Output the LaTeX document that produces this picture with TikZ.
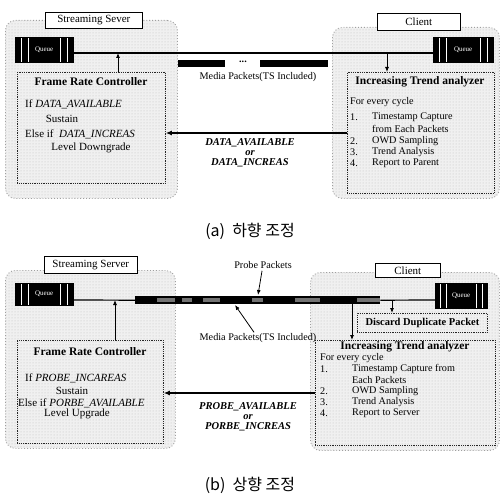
\documentclass[tikz,border=0pt]{standalone}
\usepackage{fontspec}
\setmainfont{Liberation Serif}
\newfontfamily\korfont{Noto Sans CJK KR}
\usetikzlibrary{arrows.meta,patterns,calc}
\begin{document}
\begin{tikzpicture}[x=1pt,y=-1pt,
  outerbox/.style={draw=gray!75, dotted, line width=0.9pt, rounded corners=10pt,
    preaction={fill=gray!12}, pattern=dots, pattern color=gray!50, anchor=north west, inner sep=0pt},
  inbox/.style={draw=black!85, densely dotted, line width=0.8pt,
    preaction={fill=gray!12}, pattern=dots, pattern color=gray!50, anchor=north west, inner sep=0pt},
  lbl/.style={draw=black, line width=0.6pt, fill=white, anchor=north west, inner sep=0pt,
    font=\fontsize{11}{13}\selectfont},
  queue/.style={fill=black, draw=black, anchor=north west, inner sep=0pt, text=white,
    font=\fontsize{7}{8}\selectfont,
    path picture={\foreach \f in {0.1,0.22,0.78,0.9}{
      \draw[white,line width=0.5pt]
      ($(path picture bounding box.north west)!\f!(path picture bounding box.north east)$) --
      ($(path picture bounding box.south west)!\f!(path picture bounding box.south east)$);}}},
  txt/.style={inner sep=0pt, font=\fontsize{10.2}{12}\selectfont},
  ftxt/.style={inner sep=0pt, font=\fontsize{11}{13}\selectfont},
  ttl/.style={inner sep=0pt, font=\fontsize{11.5}{13}\selectfont\bfseries},
  msg/.style={inner sep=0pt, font=\fontsize{10.5}{12}\selectfont\bfseries\itshape},
  pkt/.style={fill=black, anchor=north west, inner sep=0pt},
  arr/.style={-{Latex[length=5pt,width=4pt]}, line width=0.8pt},
  bigarr/.style={-{Latex[length=6pt,width=5pt]}, line width=1.8pt},
  captext/.style={inner sep=0pt, font=\korfont\fontsize{16}{18}\selectfont}
]
\useasboundingbox (0,0) rectangle (503,495);

% ================= (a) =================
\node[outerbox, minimum width=172, minimum height=178] (sAo) at (5,20) {};
\node[outerbox, minimum width=167, minimum height=171] (cAo) at (332,27) {};
\node[lbl, minimum width=97, minimum height=16] (sAl) at (45,12) {Streaming Sever};
\node[lbl, minimum width=83, minimum height=17] (cAl) at (377,13) {Client};
\node[queue, minimum width=58, minimum height=25] (qsA) at (15,37) {Queue};
\node[queue, minimum width=60, minimum height=25] (qcA) at (433,37) {Queue};
\node[inbox, minimum width=148, minimum height=111] (frcA) at (17,72) {};
\node[inbox, minimum width=147, minimum height=121] (anA) at (347,72) {};

\coordinate (yA) at (0,53);
\draw[line width=1.6pt] (qsA.east |- yA) -- (qcA.west |- yA);
\coordinate (upA) at (118,53);
\draw[arr] (frcA.north -| upA) -- (upA);
\coordinate (dnA) at (387,53);
\draw[arr] (dnA) -- (anA.north -| dnA);

\node[pkt, minimum width=47, minimum height=7] (pk1) at (178,60) {};
\node[pkt, minimum width=68, minimum height=7] (pk2) at (260,60) {};
\node[txt] (dotsA) at (243,62) {\textbf{...}};
\node[txt] (mpA) at (258,77) {Media Packets(TS Included)};

% FRC text (a)
\node[ttl] (fA0) at (91,82) {Frame Rate Controller};
\node[ftxt, anchor=west] (fA1) at (25,104) {If \textit{DATA\_AVAILABLE}};
\node[ftxt] (fA2) at (62,119) {Sustain};
\node[ftxt, anchor=west] (fA3) at (25,134) {Else if\ \ \textit{DATA\_INCREAS}};
\node[ftxt] (fA4) at (91,148) {Level Downgrade};

% Analyzer text (a)
\node[ttl] (aA0) at (420,82) {Increasing Trend analyzer};
\node[txt, anchor=west] (aA1) at (350,102) {For every cycle};
\node[txt, anchor=west] (aA2n) at (350,117) {1.};
\node[txt, anchor=west] (aA2) at (372,117) {Timestamp Capture};
\node[txt, anchor=west] (aA3) at (372,129) {from Each Packets};
\node[txt, anchor=west] (aA4n) at (350,141) {2.};
\node[txt, anchor=west] (aA4) at (372,141) {OWD Sampling};
\node[txt, anchor=west] (aA5n) at (350,152) {3.};
\node[txt, anchor=west] (aA5) at (372,152) {Trend Analysis};
\node[txt, anchor=west] (aA6n) at (350,163) {4.};
\node[txt, anchor=west] (aA6) at (372,163) {Report to Parent};

\coordinate (mA) at (0,133);
\draw[bigarr] (anA.west |- mA) -- (frcA.east |- mA);
\node[msg] (m1A) at (250,143) {DATA\_AVAILABLE};
\node[msg] (m2A) at (250,153) {or};
\node[msg] (m3A) at (250,163) {DATA\_INCREAS};

\node[captext] (capA) at (250,231) {(a)\ \ 하향 조정};

% ================= (b) =================
\node[outerbox, minimum width=170, minimum height=178] (sBo) at (5,270) {};
\node[outerbox, minimum width=189, minimum height=178] (cBo) at (310,272) {};
\node[lbl, minimum width=93, minimum height=17] (sBl) at (44,256) {Streaming Server};
\node[lbl, minimum width=65, minimum height=14] (cBl) at (375,263) {Client};
\node[queue, minimum width=58, minimum height=22] (qsB) at (15,283) {Queue};
\node[queue, minimum width=52, minimum height=25] (qcB) at (435,283) {Queue};
\node[inbox, minimum width=146, minimum height=103] (frcB) at (17,340) {};
\node[inbox, minimum width=130, minimum height=19] (disc) at (357,313) {};
\node[inbox, minimum width=180, minimum height=105] (anB) at (315,340) {};

\node[pkt, minimum width=245, minimum height=8] (band) at (135,296) {};
\foreach \a/\b in {157/175,182/192,203/220,252/263,295/320,357/380}
  \fill[black!55] (\a,298) rectangle (\b,302);
\coordinate (yB) at (0,300);
\draw[line width=1.2pt] (qsB.east |- yB) -- (band.west);
\draw[line width=1.2pt] (band.east) -- (qcB.west |- yB);

\coordinate (upB) at (115,300);
\draw[arr] (frcB.north -| upB) -- (upB);
\coordinate (d1B) at (392,300);
\draw[arr] (d1B) -- (disc.north -| d1B);
\coordinate (d2B) at (352,300);
\draw[arr] (d2B) -- (anB.north -| d2B);

\node[txt] (probe) at (263,265) {Probe Packets};
\coordinate (pbt) at (258,295);
\draw[arr, shorten <=2pt] (probe) -- (pbt);
\node[txt] (mpB) at (258,338) {Media Packets(TS Included)};
\coordinate (mbt) at (235,305);
\draw[arr, shorten <=1pt] (mpB) -- (mbt);

\node[ttl, font=\fontsize{10.5}{12}\selectfont\bfseries] (dtx) at (disc.center) {Discard Duplicate Packet};

% FRC text (b)
\node[ttl] (fB0) at (90,352) {Frame Rate Controller};
\node[ftxt, anchor=west] (fB1) at (25,378) {If \textit{PROBE\_INCAREAS}};
\node[ftxt] (fB2) at (72,391) {Sustain};
\node[ftxt, anchor=west] (fB3) at (18,403) {Else if \textit{PORBE\_AVAILABLE}};
\node[ftxt] (fB4) at (77,414) {Level Upgrade};

% Analyzer text (b)
\node[ttl] (aB0) at (405,347) {Increasing Trend analyzer};
\node[txt, anchor=west] (aB1) at (320,358) {For every cycle};
\node[txt, anchor=west] (aB2n) at (320,369) {1.};
\node[txt, anchor=west] (aB2) at (352,369) {Timestamp Capture from};
\node[txt, anchor=west] (aB3) at (352,380) {Each Packets};
\node[txt, anchor=west] (aB4n) at (320,391) {2.};
\node[txt, anchor=west] (aB4) at (352,391) {OWD Sampling};
\node[txt, anchor=west] (aB5n) at (320,402) {3.};
\node[txt, anchor=west] (aB5) at (352,402) {Trend Analysis};
\node[txt, anchor=west] (aB6n) at (320,413) {4.};
\node[txt, anchor=west] (aB6) at (352,413) {Report to Server};

\coordinate (mB) at (0,393);
\draw[bigarr] (anB.west |- mB) -- (frcB.east |- mB);
\node[msg] (m1B) at (248,407) {PROBE\_AVAILABLE};
\node[msg] (m2B) at (248,417) {or};
\node[msg] (m3B) at (248,427) {PORBE\_INCREAS};

\node[captext] (capB) at (250,485) {(b)\ \ 상향 조정};
\end{tikzpicture}
\end{document}
